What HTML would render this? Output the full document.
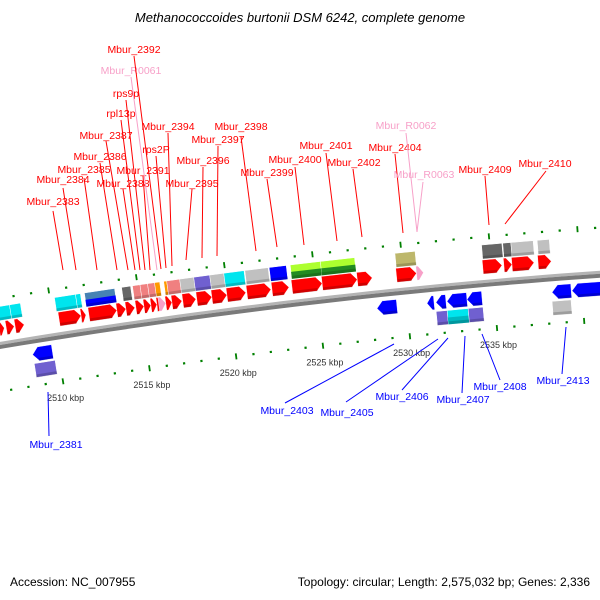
<!DOCTYPE html>
<html><head><meta charset="utf-8">
<style>
html,body{margin:0;padding:0;background:#fff;}
svg{display:block;font-family:"Liberation Sans",sans-serif;}
</style></head>
<body>
<svg id="map" width="600" height="600" viewBox="0 0 600 600">
<text x="300" y="22" text-anchor="middle" font-size="13" font-style="italic" fill="#000">Methanococcoides burtonii DSM 6242, complete genome</text>
<g id="backbone-layer"></g>
<g id="tick-layer"></g>
<g id="gene-layer"></g>
<g id="label-layer"></g>
<text x="10" y="586" font-size="12" fill="#000">Accession: NC_007955</text>
<text x="590" y="586" font-size="12" fill="#000" text-anchor="end">Topology: circular; Length: 2,575,032 bp; Genes: 2,336</text>
</svg>
<script>
// ---- data (kbp) ----
const fwdArrows = [[2506.9,2507.19],[2507.3,2507.76],[2507.81,2508.33],[2510.33,2511.59],[2511.59,2511.87],[2512.04,2513.64],[2513.64,2514.16],[2514.16,2514.67],[2514.73,2515.19],[2515.19,2515.59],[2515.59,2515.93],[2515.93,2516.21],[2516.44,2516.79],[2516.79,2517.36],[2517.41,2518.16],[2518.21,2519.07],[2519.07,2519.93],[2519.93,2521.01],[2521.07,2522.44],[2522.5,2523.47],[2523.64,2525.36],[2525.36,2527.36],[2527.36,2528.21],[2529.59,2530.73],[2534.5,2535.59],[2535.7,2536.16],[2536.16,2537.41],[2537.64,2538.39]];
const fwdRna = [[2516.04,2516.44],[2530.73,2531.13]];
const fwdBoxes = [[2507.0,2507.69],[2507.69,2508.31],[2510.26,2511.46],[2511.46,2511.74],[2511.97,2513.69],[2514.09,2514.6],[2514.71,2515.14],[2515.14,2515.57],[2515.57,2515.97],[2515.97,2516.26],[2516.49,2516.66],[2516.66,2517.4],[2517.4,2518.2],[2518.2,2519.11],[2519.11,2519.91],[2519.91,2521.06],[2521.11,2522.43],[2522.49,2523.46],[2523.69,2525.4],[2525.4,2527.34],[2529.63,2530.77],[2534.54,2535.69],[2535.74,2536.2],[2536.2,2537.46],[2537.69,2538.37]];
const fwdBoxColors = ["#00e5ee","#00e5ee","#00e5ee","#00e5ee","steel","#666666","#f08080","#f08080","#f08080","#ff9900","#ff9900","#f08080","#c0c0c0","#7060d0","#c0c0c0","#00e5ee","#c0c0c0","#0000ff","green2","green2","#bdb76b","#666666","#666666","#c0c0c0","#c0c0c0"];
const revArrows = [[2508.53,2509.67],[2528.3,2529.44],[2531.16,2531.56],[2531.67,2532.24],[2532.3,2533.44],[2533.44,2534.3],[2538.3,2539.39],[2539.44,2541.2]];
const revBoxes = [[2508.54,2509.74],[2531.63,2532.26],[2532.26,2533.46],[2533.46,2534.31],[2538.26,2539.34]];
const revBoxColors = ["#7060d0","#7060d0","cyan2","#7060d0","#c0c0c0"];
const tickStart = 2506, tickEnd = 2542;
const majorTicks = [2510,2515,2520,2525,2530,2535,2540];
const majorLabels = ["2510 kbp","2515 kbp","2520 kbp","2525 kbp","2530 kbp","2535 kbp",""];
// annotation labels: [text, color, x, y, lineX1, lineY1, lineX2, lineY2]
const topLabels = [
["Mbur_2383","#f00",53,205,53,211,63,270],["Mbur_2384","#f00",63,183,63,188,76,270],["Mbur_2385","#f00",84,173,84,178,97,270],
["Mbur_2386","#f00",100,160,100,163,117,270],["Mbur_2387","#f00",106,139,106,141,128,270],["Mbur_2388","#f00",123,187,123,189,135,270],
["rpl13p","#f00",121,117,121,120,140,270],["rps9p","#f00",126,97,126,100,145,270],["Mbur_2391","#f00",143,174,143,176,150,270],
["Mbur_R0061","#f7a0c8",131,74,131,77,157,270],["Mbur_2392","#f00",134,53,134,56,161,269],["rps2P","#f00",156,153,156,156,166,268],
["Mbur_2394","#f00",168,130,168,133,172,266],["Mbur_2395","#f00",192,187,192,189,186,260],["Mbur_2396","#f00",203,164,203,167,202,258],
["Mbur_2397","#f00",218,143,218,146,217,256],["Mbur_2398","#f00",241,130,241,137,256,251],["Mbur_2399","#f00",267,176,267,179,277,247],
["Mbur_2400","#f00",295,163,295,167,304,245],["Mbur_2401","#f00",326,149,326,153,337,241],["Mbur_2402","#f00",354,166,353,169,362,237],
["Mbur_2404","#f00",395,151,395,154,403,233],["Mbur_R0062","#f7a0c8",406,129,406,133,417,232],["Mbur_R0063","#f7a0c8",424,178,423,182,417,232],
["Mbur_2409","#f00",485,173,485,176,489,225],["Mbur_2410","#f00",545,167,546,171,505,224]];
const bottomLabels = [
["Mbur_2381","#00f",56,448,49,436,48,392],["Mbur_2403","#00f",287,414,285,403,394,344],["Mbur_2405","#00f",347,416,346,402,438,339],
["Mbur_2406","#00f",402,400,402,390,448,338],["Mbur_2407","#00f",463,403,462,393,465,336],["Mbur_2408","#00f",500,390,500,380,482,334],
["Mbur_2413","#00f",563,384,562,374,566,327]];

// ---- geometry ----
const NS="http://www.w3.org/2000/svg";
const cx=1046, cy=6593, r0=6335, phi0=-0.15695, kRad=0.0027816;
function pt(kb,r){const p=phi0+(kb-2510)*kRad;return [cx+r*Math.sin(p), cy-r*Math.cos(p)];}
function mk(tag,attrs,parent){const e=document.createElementNS(NS,tag);for(const k in attrs)e.setAttribute(k,attrs[k]);parent.appendChild(e);return e;}
function ptsStr(a){return a.map(p=>p[0].toFixed(2)+","+p[1].toFixed(2)).join(" ");}
const bb=document.getElementById("backbone-layer"), tl=document.getElementById("tick-layer"), gl=document.getElementById("gene-layer"), ll=document.getElementById("label-layer");

// backbone
function band(r1,r2,fill,name){const a=[];for(let kb=2500;kb<=2545;kb+=1)a.push(pt(kb,r1));for(let kb=2545;kb>=2500;kb-=1)a.push(pt(kb,r2));
 const e=mk("polygon",{points:ptsStr(a),fill:fill},bb);
 
 }
band(r0+3,r0,"#b4b4b4","backbone-top");
band(r0,r0-4,"#7a7a7a","backbone-bottom");

// ticks
for(let kb=tickStart;kb<=tickEnd;kb++){
 const major=majorTicks.indexOf(kb)>=0;
 [r0+46,r0-46].forEach((r,i)=>{
  const len=major?6:2.2, w=major?1.8:2.2;
  const a=pt(kb,r-len/2), b=pt(kb,r+len/2);
  const e=mk("line",{x1:a[0],y1:a[1],x2:b[0],y2:b[1],stroke:"#008000","stroke-width":w},tl);
  
  
 });
}
majorTicks.forEach((kb,i)=>{
 if(!majorLabels[i])return;
 const p=pt(kb,r0-46-17);
 const t=mk("text",{x:p[0].toFixed(1),y:(p[1]+3).toFixed(1),"font-size":"9","text-anchor":"middle",fill:"#333"},tl);
 t.textContent=majorLabels[i];
 
 
});

// genes
const H=7, head=0.34;
function shade(kb1,kb2,rIn,name){
 const a=[pt(kb1,rIn),pt(kb2,rIn),pt(kb2,rIn+3),pt(kb1,rIn+3)];
 const e=mk("polygon",{points:ptsStr(a),fill:"#000","fill-opacity":"0.18"},gl);
 
 
}
function arrow(s,e2,rc,dir,fill,name){
 const hl=Math.min(head,(e2-s)*0.7);
 let a;
 if(dir>0)a=[pt(s,rc+H),pt(e2-hl,rc+H),pt(e2,rc),pt(e2-hl,rc-H),pt(s,rc-H)];
 else a=[pt(e2,rc+H),pt(s+hl,rc+H),pt(s,rc),pt(s+hl,rc-H),pt(e2,rc-H)];
 const el=mk("polygon",{points:ptsStr(a),fill:fill,stroke:"#fff","stroke-width":"0.4"},gl);
 
 
 return el;
}
function box(s,e2,rc,color,name){
 let top=color,bot=null;
 if(color==="steel"){top="#4682b4";bot="#0000ff";}
 if(color==="green2"){top="#adff2f";bot="#228b22";}
 if(color==="cyan2"){top="#00e5ee";bot="#00b8c0";}
 const a=[pt(s,rc+H),pt(e2,rc+H),pt(e2,rc-H),pt(s,rc-H)];
 const el=mk("polygon",{points:ptsStr(a),fill:top,stroke:"#fff","stroke-width":"0.5"},gl);
 
 
 if(bot){const b=[pt(s,rc),pt(e2,rc),pt(e2,rc-H),pt(s,rc-H)];
  const e3=mk("polygon",{points:ptsStr(b),fill:bot},gl);
  
  }
}
fwdBoxes.forEach((g,i)=>{box(g[0],g[1],r0+31,fwdBoxColors[i],'forward-feature-'+i);shade(g[0],g[1],r0+31-H,'forward-feature-shade-'+i);});
fwdArrows.forEach((g,i)=>{arrow(g[0],g[1],r0+16,1,"#ff0000",'forward-gene-'+i);shade(g[0]+0.02,g[1]-0.3,r0+16-H,'forward-gene-shade-'+i);});
fwdRna.forEach((g,i)=>{arrow(g[0],g[1],r0+16,1,"#f7a0c8",'forward-rna-'+i);});
revArrows.forEach((g,i)=>{arrow(g[0],g[1],r0-15,-1,"#0000ff",'reverse-gene-'+i);shade(g[0]+0.3,g[1]-0.02,r0-15-H,'reverse-gene-shade-'+i);});
revBoxes.forEach((g,i)=>{box(g[0],g[1],r0-31,revBoxColors[i],'reverse-feature-'+i);shade(g[0],g[1],r0-31-H,'reverse-feature-shade-'+i);});

// labels
function labels(arr,prefix){arr.forEach(l=>{
 const ln=mk("line",{x1:l[4],y1:l[5],x2:l[6],y2:l[7],stroke:l[1],"stroke-width":"1"},ll);
 
 
 const t=mk("text",{x:l[2],y:l[3],"font-size":"10.5","text-anchor":"middle",fill:l[1]},ll);
 t.textContent=l[0];
 
 
});}
labels(topLabels,'forward');
labels(bottomLabels,'reverse');
</script>
</body></html>
